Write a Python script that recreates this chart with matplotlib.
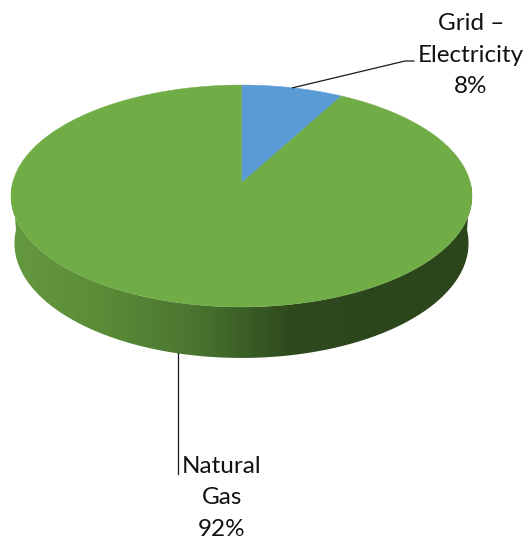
import numpy as np
import matplotlib
matplotlib.use("Agg")
from matplotlib import pyplot as plt
from matplotlib.colors import LinearSegmentedColormap
from matplotlib.patches import Polygon

# energy share by source
labels = ["Grid –\nElectricity", "Natural\nGas"]
shares = [8, 92]
colors = ["#5B9BD5", "#70AD47"]

# side wall shading for the green slice (left -> right)
side_stops = ["#65993F", "#5A8C38", "#4A7430", "#2F4B1E", "#2C461C", "#2C461C"]

# simple perspective camera for the 3d disc
elev = np.radians(28.56)
dist = 7.5
focal = 1717.0
depth = 0.237
cx, cy = 241.5, 183.0


def project(x, y, z):
    up = y * np.sin(elev) + z * np.cos(elev)
    far = dist + y * np.cos(elev) - z * np.sin(elev)
    return cx + focal * x / far, cy - focal * up / far


def ring(a0, a1, z, n=200):
    # angles in degrees, clockwise from 12 o'clock seen from above
    t = np.radians(np.linspace(a0, a1, n))
    return np.column_stack(project(np.sin(t), np.cos(t), np.full_like(t, z)))


fig = plt.figure(figsize=(5.28, 5.40), dpi=100)
ax = fig.add_axes([0, 0, 1, 1])
ax.set_xlim(0, 528)
ax.set_ylim(540, 0)
ax.axis("off")

# front side wall, only the big slice faces the viewer
top_front = ring(90, 270, 0)
bot_front = ring(270, 90, -depth)
side = Polygon(np.vstack([top_front, bot_front]), closed=True,
               facecolor="none", edgecolor="none")
ax.add_patch(side)
xs = np.vstack([top_front, bot_front])
x0, x1 = xs[:, 0].min(), xs[:, 0].max()
y0, y1 = xs[:, 1].min(), xs[:, 1].max()
cmap = LinearSegmentedColormap.from_list("side", side_stops)
grad = np.linspace(0, 1, 256)[None, :]
img = ax.imshow(grad, cmap=cmap, extent=[x0, x1, y1, y0], aspect="auto",
                interpolation="bilinear", zorder=1)
img.set_clip_path(side)

# top face wedges
bounds = np.concatenate([[0], np.cumsum(shares)]) / sum(shares) * 360
centre = np.array(project(0, 0, 0))
for a0, a1, c in zip(bounds[:-1], bounds[1:], colors):
    pts = np.vstack([centre, ring(a0, a1, 0)])
    ax.add_patch(Polygon(pts, closed=True, facecolor=c, edgecolor=c,
                         linewidth=0.3, zorder=2))

# leader lines and data labels
mid = (bounds[:-1] + bounds[1:]) / 2
t = np.radians(mid)
gx, gy = project(np.sin(t[0]), np.cos(t[0]), 0)
ax.plot([gx, 405, 414], [gy, 61, 61], color="#1a1a1a", lw=0.9, zorder=3)
nx, ny = project(np.sin(t[1]), np.cos(t[1]), -depth)
ax.plot([nx, nx], [ny, 474], color="#1a1a1a", lw=0.9, zorder=3)

font = dict(family=["Lato", "DejaVu Sans"], fontsize=17.5, color="#111111",
            ha="center", va="center", linespacing=1.6)
ax.text(471, 55, f"{labels[0]}\n{shares[0]}%", **font)
ax.text(222, 498, f"{labels[1]}\n{shares[1]}%", **font)

fig.savefig("out.png", dpi=100)
